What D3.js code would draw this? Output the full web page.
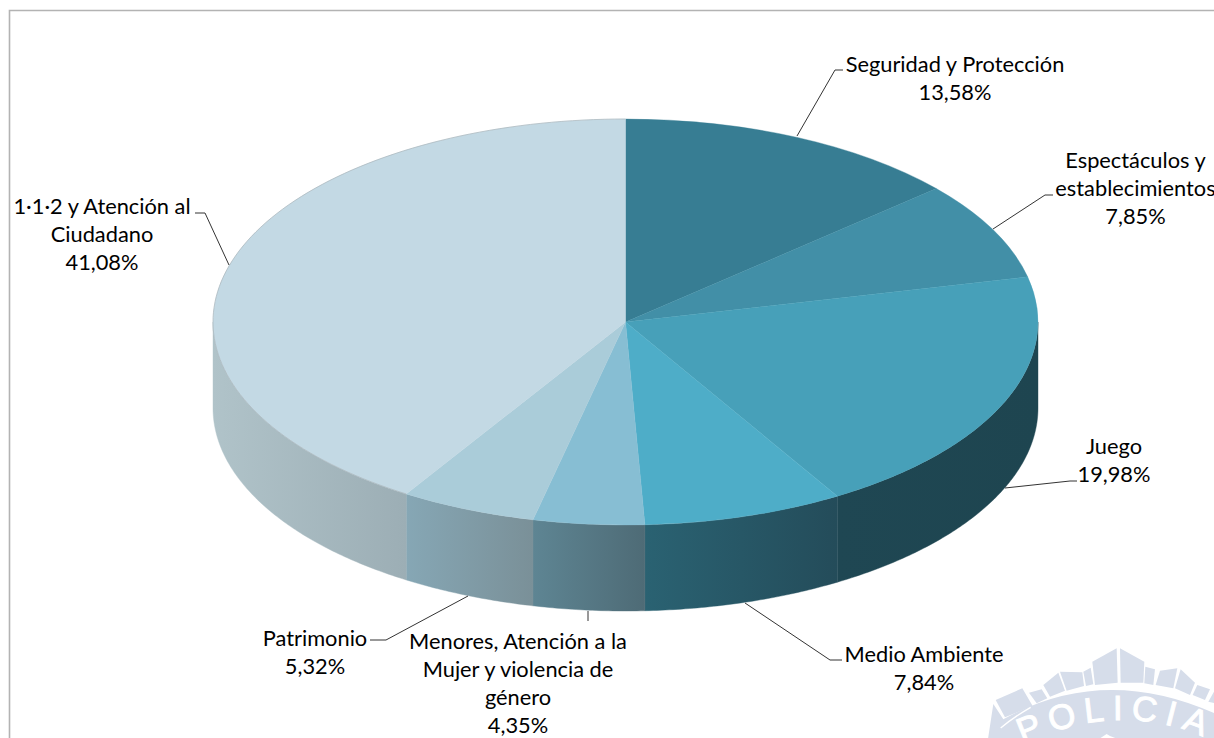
<!DOCTYPE html>
<html><head><meta charset="utf-8">
<script src="https://cdn.jsdelivr.net/npm/d3@7"></script>
<style>html,body{margin:0;padding:0;background:#fff;overflow:hidden}svg{display:block}text{font-family:Lato,"Open Sans",sans-serif;fill:#000}</style>
</head><body><div id="c"></div>
<script>
const categories=["Seguridad y Protección","Espectáculos y establecimientos","Juego","Medio Ambiente","Menores, Atención a la Mujer y violencia de género","Patrimonio","1·1·2 y Atención al Ciudadano"];
const values=[13.58,7.85,19.98,7.84,4.35,5.32,41.08];
const labelLines=[["Seguridad y Protección"],["Espectáculos y","establecimientos"],["Juego"],["Medio Ambiente"],["Menores, Atención a la","Mujer y violencia de","género"],["Patrimonio"],["1·1·2 y Atención al","Ciudadano"]];
const topColors=["#377D93","#428FA7","#47A0B9","#4EADC8","#87BED3","#AACCD9","#C3D9E4"];
const wallColors=[null,null,["#1E4550","#1F4753"],["#244C5A","#2A6272"],["#4E6B76","#5E8593"],["#7A9098","#86A7B5"],["#9CAEB5","#B0C3C9"]];
// label layout: centre x, first-line centre y, elbow and end of each leader
const labelLayout=[
 {x:955,y:64,mid:[835,70],end:[843,70]},
 {x:1135.5,y:160,mid:[1045,195],end:[1053,195]},
 {x:1114,y:446,mid:[1070,481],end:[1077,481]},
 {x:924,y:654,mid:[830,660],end:[842,660]},
 {x:518,y:641,mid:[588,621],end:[588,621]},
 {x:315,y:638,mid:[386,640],end:[370,640]},
 {x:102,y:206,mid:[205,213],end:[195,213]}];
const fmt=v=>v.toFixed(2).replace(".",",")+"%";

const W=1214,H=738,cx=625.5,cy=322,rx=412.5,ry=203,depth=86;
const svg=d3.select("#c").append("svg").attr("width",W).attr("height",H);
const defs=svg.append("defs");

// frame
svg.append("path").attr("d",`M${W+2},10.5H9.5V${H+2}`).attr("fill","none").attr("stroke","#b3b3b3").attr("stroke-width",1.6);

// watermark (decorative)
const wm=svg.append("g").attr("fill","#D6DDEA").attr("transform","translate(960,630) scale(0.3333)");
[[[397,95],[470,55],[473,158],[405,165]],[[480,55],[553,95],[550,158],[482,158]],[[556,110],[585,118],[580,165],[553,160]],
 [[600,122],[652,115],[640,175],[587,165]],[[662,118],[705,158],[690,195],[645,175]],[[712,165],[750,178],[735,210],[698,195]],
 [[762,185],[790,195],[790,225],[745,215]],[[370,125],[392,113],[400,163],[378,168]],[[300,125],[367,127],[372,168],[320,182]],
 [[295,128],[315,182],[270,200],[250,165]],[[207,188],[245,178],[262,205],[230,220]],[[107,210],[187,175],[218,228],[135,262]]]
 .forEach(p=>wm.append("polygon").attr("points",p.join(" ")));
wm.append("path").attr("d","M100,222L130,268Q440,95 790,262V340H82Z");
wm.append("path").attr("d","M122,294Q160,262 212,232").attr("fill","none").attr("stroke","#fff").attr("stroke-width",4);
defs.append("path").attr("id","wmArc").attr("d","M170,350Q500,190 790,350");
wm.append("text").attr("font-size",105).attr("letter-spacing",24).style("fill","#fff").style("stroke","#fff").style("stroke-width",3).style("font-family","'Liberation Sans'")
  .append("textPath").attr("href","#wmArc").attr("startOffset","3%").text("POLICIA");
wm.append("path").attr("d","M420,325L440,312L450,318L468,325V330H420Z").attr("fill","#fff");

// pie geometry
const slices=d3.pie().sort(null).value(d=>d)(values);
const px=a=>cx+rx*Math.sin(a), py=a=>cy-ry*Math.cos(a);
const wall=d3.area().x(a=>px(a)).y0(a=>py(a)).y1(a=>py(a)+depth).curve(d3.curveLinear);

// walls
slices.forEach((s,i)=>{
  const a0=Math.max(s.startAngle,Math.PI/2),a1=Math.min(s.endAngle,3*Math.PI/2);
  if(a1<=a0||!wallColors[i])return;
  const x0=px(a0),x1=px(a1);
  const g=defs.append("linearGradient").attr("id","w"+i).attr("gradientUnits","userSpaceOnUse")
    .attr("x1",x0).attr("x2",x1).attr("y1",0).attr("y2",0);
  g.append("stop").attr("offset",0).attr("stop-color",wallColors[i][0]);
  g.append("stop").attr("offset",1).attr("stop-color",wallColors[i][1]);
  const n=Math.max(8,Math.ceil((a1-a0)/0.01));
  svg.append("path").datum(d3.range(n+1).map(k=>a0+(a1-a0)*k/n)).attr("d",wall).attr("fill",`url(#w${i})`)
    .attr("stroke",`url(#w${i})`).attr("stroke-width",0.4);
});

// top faces
const arc=d3.arc().innerRadius(0).outerRadius(rx);
const topFaces=svg.append("g").attr("transform",`translate(${cx},${cy}) scale(1,${ry/rx})`);
topFaces.selectAll("path").data(slices).join("path").attr("d",arc).attr("fill",(d,i)=>topColors[i])
  .attr("stroke",(d,i)=>topColors[i]).attr("stroke-width",0.5);

// outline of the pale slice
svg.append("path").datum(d3.range(0,101).map(k=>slices[6].startAngle+(slices[6].endAngle-slices[6].startAngle)*k/100))
  .attr("d",d3.line().x(a=>px(a)).y(a=>py(a))).attr("fill","none").attr("stroke","#a9b4ba").attr("stroke-width",0.7);

// leaders
const leaderStart=[[797,136],[993,229],[1005,488],[745,603],[588,611],[468,596],[229,265]];
const leader=d3.line();
labelLayout.forEach((l,i)=>{
  svg.append("path").attr("d",leader([leaderStart[i],l.mid,l.end])).attr("fill","none").attr("stroke","#333").attr("stroke-width",1);
});

// labels
labelLayout.forEach((l,i)=>{
  const t=svg.append("text").attr("text-anchor","middle").attr("font-size",21.8);
  [...labelLines[i],fmt(values[i])].forEach((s,k)=>{
    t.append("tspan").attr("x",l.x).attr("y",l.y+k*28).attr("dy","0.35em").text(s);
  });
});
</script></body></html>
